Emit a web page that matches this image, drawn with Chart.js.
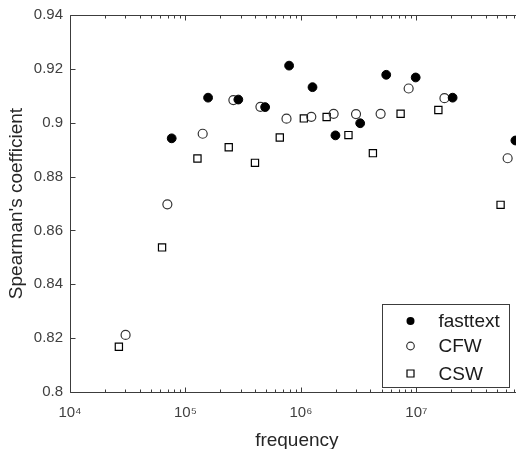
<!DOCTYPE html>
<html>
<head>
<meta charset="utf-8">
<script src="https://cdn.jsdelivr.net/npm/chart.js@4.4.1/dist/chart.umd.min.js"></script>
<style>
  html, body { margin: 0; padding: 0; background: #fff; overflow: hidden; }
  #outer { width: 516px; height: 449px; overflow: hidden; position: relative; }
  #c { position: absolute; left: 0; top: 0; }
</style>
</head>
<body>
<div id="outer"><canvas id="c" width="530" height="455" style="width:530px;height:455px"></canvas></div>
<script>
// ---- data ----
const fasttextX = [7.6e4, 1.57e5, 2.87e5, 4.9e5, 7.9e5, 1.26e6, 1.99e6, 3.26e6, 5.48e6, 9.86e6, 2.06e7, 7.2e7];
const fasttextY = [0.8942, 0.9093, 0.9086, 0.9058, 0.9212, 0.9132, 0.8953, 0.8998, 0.9178, 0.9168, 0.9093, 0.8934];
const cfwX = [3.03e4, 6.97e4, 1.41e5, 2.6e5, 4.46e5, 7.5e5, 1.23e6, 1.92e6, 3.0e6, 4.9e6, 8.57e6, 1.75e7, 6.17e7];
const cfwY = [0.8212, 0.8697, 0.8959, 0.9084, 0.9059, 0.9015, 0.9022, 0.9033, 0.9032, 0.9033, 0.9127, 0.9091, 0.8868];
const cswX = [2.65e4, 6.27e4, 1.27e5, 2.37e5, 4.0e5, 6.56e5, 1.06e6, 1.67e6, 2.58e6, 4.2e6, 7.3e6, 1.55e7, 5.36e7];
const cswY = [0.8168, 0.8537, 0.8867, 0.8909, 0.8851, 0.8945, 0.9016, 0.9021, 0.8954, 0.8887, 0.9033, 0.9047, 0.8695];
const seriesNames = ['fasttext', 'CFW', 'CSW'];
const xRange = [1e4, 8.5e7];
const yRange = [0.8, 0.94];
const yStep = 0.02;
const xTitle = 'frequency';
const yTitle = "Spearman's coefficient";

const SUP = {'0':'⁰','1':'¹','2':'²','3':'³','4':'⁴','5':'⁵','6':'⁶','7':'⁷','8':'⁸','9':'⁹','-':'⁻'};
const pts = (xs, ys) => xs.map((x, i) => ({x: x, y: ys[i]}));

const FONT = "'Liberation Sans', Arial, Helvetica, sans-serif";
const AXIS_COLOR = '#3c3c3c';
const TEXT_COLOR = '#404040';

const isDecade = v => Math.abs(Math.log10(v) - Math.round(Math.log10(v))) < 1e-9;
const isLogStep = v => { const e = Math.floor(Math.log10(v) + 1e-9); const m = v / Math.pow(10, e); return Math.abs(m - Math.round(m)) < 1e-6; };

const boxPlugin = {
  id: 'box',
  afterDatasetsDraw(chart) {
    const {ctx, chartArea: a, scales: {x, y}} = chart;
    ctx.save();
    ctx.strokeStyle = AXIS_COLOR;
    ctx.lineWidth = 1;
    const L = Math.round(a.left) + 0.5, T = Math.round(a.top) + 0.5, B = Math.round(a.bottom) + 0.5, R = Math.round(a.right) + 0.5;
    ctx.beginPath();
    ctx.moveTo(L, B); ctx.lineTo(L, T); ctx.lineTo(R, T); ctx.lineTo(R, B); ctx.lineTo(L, B);
    ctx.stroke();
    ctx.beginPath();
    x.ticks.forEach(t => {
      if (!isLogStep(t.value)) return;
      const px = Math.round(x.getPixelForValue(t.value)) + 0.5;
      const len = isDecade(t.value) ? 5 : 3;
      ctx.moveTo(px, B); ctx.lineTo(px, B - len);
      ctx.moveTo(px, T); ctx.lineTo(px, T + len);
    });
    y.ticks.forEach(t => {
      const py = Math.round(y.getPixelForValue(t.value)) + 0.5;
      ctx.moveTo(L, py); ctx.lineTo(L + 5, py);
      ctx.moveTo(R, py); ctx.lineTo(R - 5, py);
    });
    ctx.stroke();
    ctx.restore();
  }
};

const legendPlugin = {
  id: 'boxLegend',
  afterDraw(chart) {
    const {ctx} = chart;
    const left = 382.5, top = 304.5, w = 127, h = 83;
    ctx.save();
    ctx.fillStyle = '#fff';
    ctx.fillRect(left, top, w, h);
    ctx.strokeStyle = AXIS_COLOR;
    ctx.lineWidth = 1;
    ctx.strokeRect(left, top, w, h);
    const rows = [16.5, 41.5, 69];
    chart.data.datasets.forEach((ds, i) => {
      const cx = left + 28, cy = top + rows[i];
      ctx.beginPath();
      ctx.lineWidth = 1.2;
      if (ds.pointStyle === 'rect') {
        ctx.strokeStyle = '#000';
        ctx.rect(cx - 3.5, cy - 3.5, 7, 7);
        ctx.stroke();
      } else {
        ctx.arc(cx, cy, ds.label === 'fasttext' ? 4 : 3.8, 0, Math.PI * 2);
        if (ds.label === 'fasttext') { ctx.fillStyle = '#000'; ctx.fill(); }
        else { ctx.strokeStyle = '#333'; ctx.stroke(); }
      }
      ctx.fillStyle = '#1a1a1a';
      ctx.font = '19px ' + FONT;
      ctx.textAlign = 'left';
      ctx.textBaseline = 'middle';
      ctx.fillText(ds.label, left + 56, cy + 1);
    });
    ctx.restore();
  }
};

new Chart(document.getElementById('c'), {
  type: 'scatter',
  data: {
    datasets: [
      { label: seriesNames[0], data: pts(fasttextX, fasttextY), pointStyle: 'circle', pointRadius: 4.4,
        backgroundColor: '#000', borderColor: '#000', borderWidth: 1 },
      { label: seriesNames[1], data: pts(cfwX, cfwY), pointStyle: 'circle', pointRadius: 4.5,
        backgroundColor: 'rgba(0,0,0,0)', borderColor: '#333', borderWidth: 1.2 },
      { label: seriesNames[2], data: pts(cswX, cswY), pointStyle: 'rect', pointRadius: 5.1,
        backgroundColor: 'rgba(0,0,0,0)', borderColor: '#000', borderWidth: 1.2 }
    ]
  },
  options: {
    responsive: false,
    maintainAspectRatio: false,
    devicePixelRatio: 1,
    animation: false,
    events: [],
    layout: { padding: { top: 15, right: 3, left: 0, bottom: 0 } },
    plugins: { legend: { display: false }, tooltip: { enabled: false } },
    scales: {
      x: {
        type: 'logarithmic',
        min: xRange[0], max: xRange[1],
        grid: { display: false, drawTicks: false },
        border: { display: false },
        afterFit: s => { s.height = 63; s.paddingRight = 0; s.paddingLeft = 0; },
        ticks: {
          autoSkip: false, maxRotation: 0, padding: 12,
          color: TEXT_COLOR, font: { family: FONT, size: 15 },
          callback: v => isDecade(v) ? '10' + String(Math.round(Math.log10(v))).split('').map(c => SUP[c]).join('') : ''
        },
        title: { display: true, text: xTitle, color: '#262626', font: { family: FONT, size: 19 }, padding: { top: 0, bottom: 3 } }
      },
      y: {
        min: yRange[0], max: yRange[1],
        grid: { display: false, drawTicks: false },
        border: { display: false },
        afterFit: s => { s.width = 70; s.paddingTop = 0; s.paddingBottom = 0; },
        ticks: {
          stepSize: yStep, padding: 7,
          color: TEXT_COLOR, font: { family: FONT, size: 15 },
          callback: v => String(parseFloat(v.toFixed(2)))
        },
        title: { display: true, text: yTitle, color: '#262626', font: { family: FONT, size: 19 }, padding: { top: 5, bottom: 0 } }
      }
    }
  },
  plugins: [boxPlugin, legendPlugin]
});
</script>
</body>
</html>
